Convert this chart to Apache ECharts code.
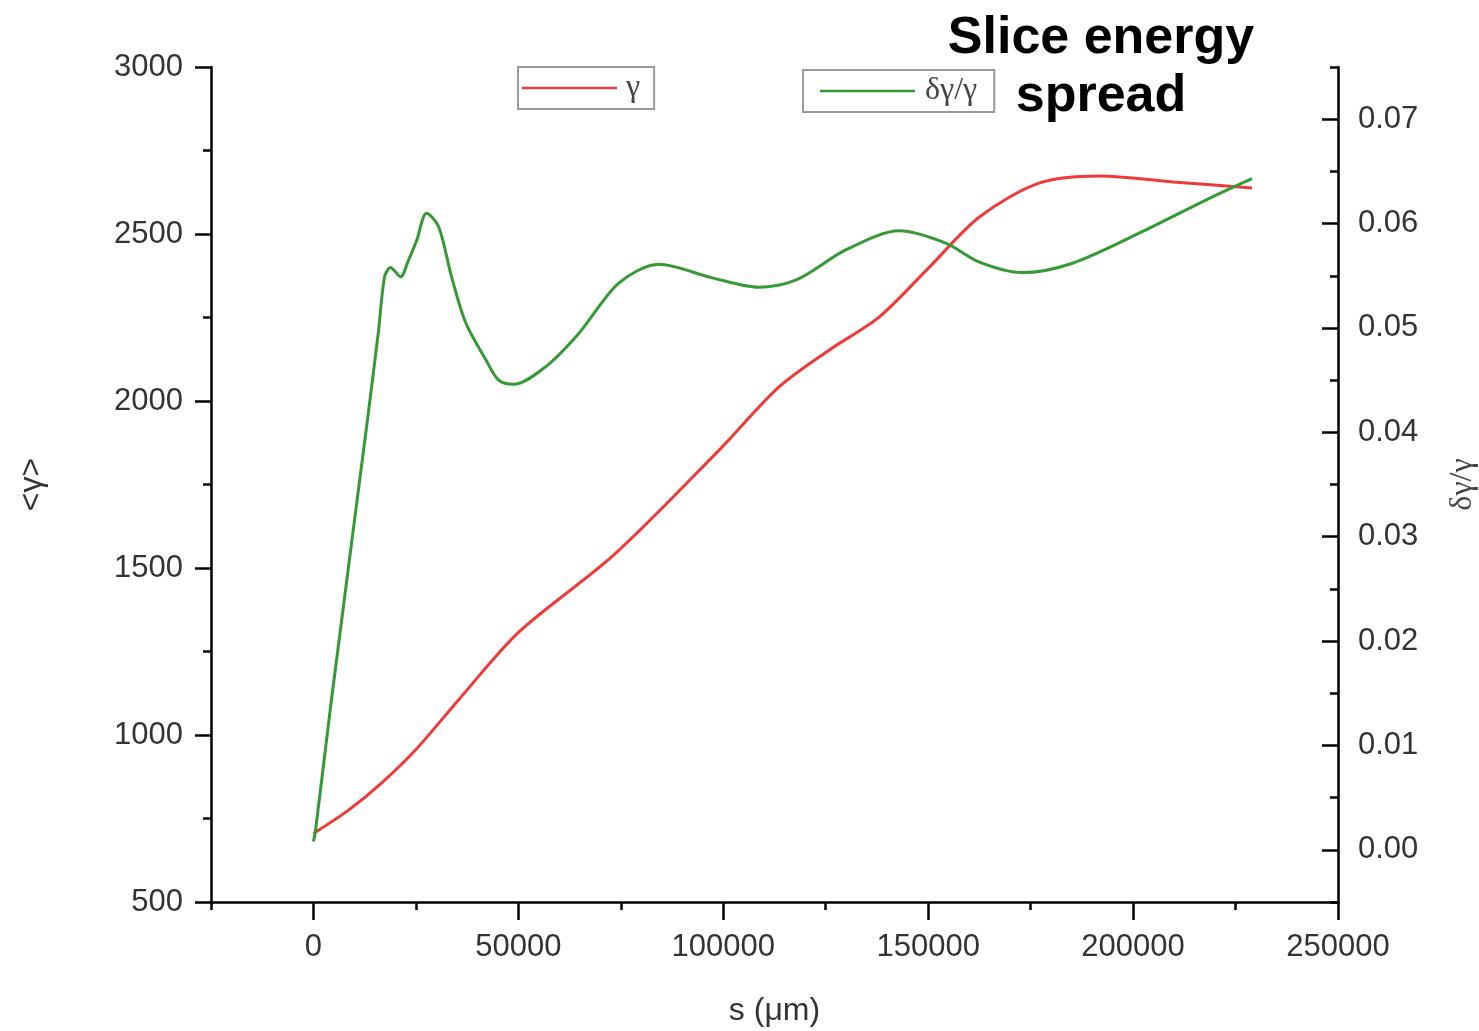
<!DOCTYPE html>
<html>
<head>
<meta charset="utf-8">
<script src="https://cdn.jsdelivr.net/npm/echarts@6/dist/echarts.min.js"></script>
<style>html,body{margin:0;padding:0;background:#fff}#c{width:1479px;height:1031px}</style>
</head>
<body>
<div id="c"></div>
<script>
// s positions (µm) and mean gamma
const sGamma = [0, 8550, 16600, 24900, 35400, 50100, 73300, 99000, 113600, 125900, 138100, 150300, 162500, 177200, 191800, 209700, 229000];
const gamma  = [705, 775, 856, 955, 1105, 1308, 1539, 1853, 2042, 2153, 2252, 2401, 2551, 2653, 2674, 2656, 2638];
// s positions (µm) and slice energy spread
const sSpread = [0, 490, 4400, 12950, 15900, 17350, 18800, 21260, 23200, 25200, 27600, 30550, 33700, 37150, 42000, 45200, 48900, 56700, 64800, 74500, 84300, 97300, 108700, 117800, 130000, 143000, 154400, 162500, 173000, 185200, 201600, 218000, 229000];
const spread  = [0.0008, 0.0018, 0.0144, 0.0405, 0.0498, 0.0549, 0.0558, 0.0549, 0.0565, 0.0584, 0.0610, 0.0597, 0.0549, 0.0505, 0.0470, 0.0450, 0.0446, 0.0463, 0.0495, 0.0543, 0.0561, 0.0548, 0.0539, 0.0546, 0.0575, 0.0593, 0.0581, 0.0563, 0.0553, 0.0562, 0.0591, 0.0623, 0.0643];
// tick labels
const yRightLabels = [0, 0.01, 0.02, 0.03, 0.04, 0.05, 0.06, 0.07];
const legendNames = ['γ', 'δγ/γ'];

// axis ranges
const X_MIN = -25000, X_MAX = 250000, X_MAJOR = 50000;
const YR_MIN = -0.005, YR_MAX = 0.075, YR_MAJOR = 0.01;

// layout
const W = 1479, H = 1031;
const G = {left: 211, right: 141, top: 67, bottom: 129};
const gw = W - G.left - G.right, gh = H - G.top - G.bottom;
// overlay grid whose x-range starts at 0 (major x ticks) and one whose y-range is 0..0.07 (major right ticks)
const g1 = {left: G.left + gw * (0 - X_MIN) / (X_MAX - X_MIN), right: G.right, top: G.top, bottom: G.bottom};
const g2 = {left: G.left, right: G.right,
            top: G.top + gh * (YR_MAX - 0.07) / (YR_MAX - YR_MIN),
            bottom: G.bottom + gh * (0 - YR_MIN) / (YR_MAX - YR_MIN)};

const RED = '#f03a3a', GREEN = '#359a35';
const lbl = {color: '#333', fontSize: 31, fontFamily: 'Liberation Sans'};
const line = () => ({onZero: false, lineStyle: {color: '#000', width: 2.5}});
const ghostLine = () => ({show: true, onZero: false, lineStyle: {color: 'rgba(255,255,255,0)', width: 1}});
const tickStyle = () => ({color: '#000', width: 2.5});

const chart = echarts.init(document.getElementById('c'));
chart.setOption({
  animation: false,
  backgroundColor: '#fff',
  grid: [
    Object.assign({outerBoundsMode: 'none'}, G),
    Object.assign({outerBoundsMode: 'none'}, g1),
    Object.assign({outerBoundsMode: 'none'}, g2)
  ],
  legend: [
    {data: [legendNames[0]], left: 518, top: 67, orient: 'horizontal', icon: 'rect', itemWidth: 95, itemHeight: 2.5,
     padding: [5, 14, 5, 4], borderColor: '#999', borderWidth: 2, borderRadius: 0,
     textStyle: {fontFamily: 'Liberation Serif', fontSize: 32, color: '#444', padding: [0, 0, 0, 4]}},
    {data: [legendNames[1]], left: 803, top: 70, orient: 'horizontal', icon: 'rect', itemWidth: 95, itemHeight: 2.5,
     padding: [5, 17, 5, 17], borderColor: '#999', borderWidth: 2, borderRadius: 0,
     textStyle: {fontFamily: 'Liberation Serif', fontSize: 32, color: '#444', padding: [0, 0, 0, 5]}}
  ],
  graphic: [{
    type: 'text', x: 1101, y: 10,
    style: {text: 'Slice energy\nspread', font: 'bold 52px "Liberation Sans"', fill: '#000', textAlign: 'center', lineHeight: 58}
  }],
  xAxis: [
    {gridIndex: 0, type: 'value', min: X_MIN, max: X_MAX, interval: X_MAJOR / 2, position: 'bottom',
     name: 's (μm)', nameLocation: 'middle', nameGap: 93,
     nameTextStyle: {color: '#333', fontSize: 32, fontFamily: 'Liberation Sans', verticalAlign: 'top'},
     axisLine: line(), axisTick: {show: true, length: 8, lineStyle: tickStyle()},
     axisLabel: {show: false}, splitLine: {show: false}},
    {gridIndex: 1, type: 'value', min: 0, max: X_MAX, interval: X_MAJOR, position: 'bottom',
     axisLine: ghostLine(), splitLine: {show: false},
     axisTick: {show: true, length: 18, lineStyle: tickStyle()},
     axisLabel: Object.assign({margin: 30, formatter: v => String(v)}, lbl)},
    {gridIndex: 2, type: 'value', min: X_MIN, max: X_MAX, show: false}
  ],
  yAxis: [
    {gridIndex: 0, type: 'value', min: 500, max: 3000, interval: 500, position: 'left',
     name: '<γ>', nameLocation: 'middle', nameGap: 163, nameRotate: 90,
     nameTextStyle: {color: '#333', fontSize: 32, fontFamily: 'Liberation Sans'},
     axisLine: line(), axisTick: {show: true, length: 16, lineStyle: tickStyle()},
     minorTick: {show: true, splitNumber: 2, length: 8, lineStyle: tickStyle()},
     axisLabel: Object.assign({margin: 28, formatter: v => String(v)}, lbl), splitLine: {show: false}},
    {gridIndex: 0, type: 'value', min: YR_MIN, max: YR_MAX, interval: YR_MAJOR / 2, position: 'right',
     name: 'δγ/γ', nameLocation: 'middle', nameGap: 109, nameRotate: 90,
     nameTextStyle: {color: '#444', fontSize: 32, fontFamily: 'Liberation Serif', verticalAlign: 'top'},
     axisLine: line(), axisTick: {show: true, inside: true, length: 8, lineStyle: tickStyle()},
     axisLabel: Object.assign({margin: 20, customValues: yRightLabels, formatter: v => v.toFixed(2)}, lbl),
     splitLine: {show: false}},
    {gridIndex: 1, type: 'value', min: 0, max: 1, show: false},
    {gridIndex: 2, type: 'value', min: 0, max: 0.07, interval: YR_MAJOR, position: 'right',
     axisLine: ghostLine(), axisLabel: {show: false}, splitLine: {show: false},
     axisTick: {show: true, inside: true, length: 16, lineStyle: tickStyle()}}
  ],
  series: [
    {name: legendNames[0], type: 'line', xAxisIndex: 0, yAxisIndex: 0, smooth: 0.3, showSymbol: false,
     itemStyle: {color: RED}, lineStyle: {color: RED, width: 3},
     data: sGamma.map((s, i) => [s, gamma[i]])},
    {name: legendNames[1], type: 'line', xAxisIndex: 0, yAxisIndex: 1, smooth: 0.3, showSymbol: false,
     itemStyle: {color: GREEN}, lineStyle: {color: GREEN, width: 3},
     data: sSpread.map((s, i) => [s, spread[i]])},
    // empty series registering the tick-only overlay grids
    {name: 'xticks', type: 'line', xAxisIndex: 1, yAxisIndex: 2, data: [], silent: true, showSymbol: false},
    {name: 'yticks', type: 'line', xAxisIndex: 2, yAxisIndex: 3, data: [], silent: true, showSymbol: false}
  ]
});
</script>
</body>
</html>
